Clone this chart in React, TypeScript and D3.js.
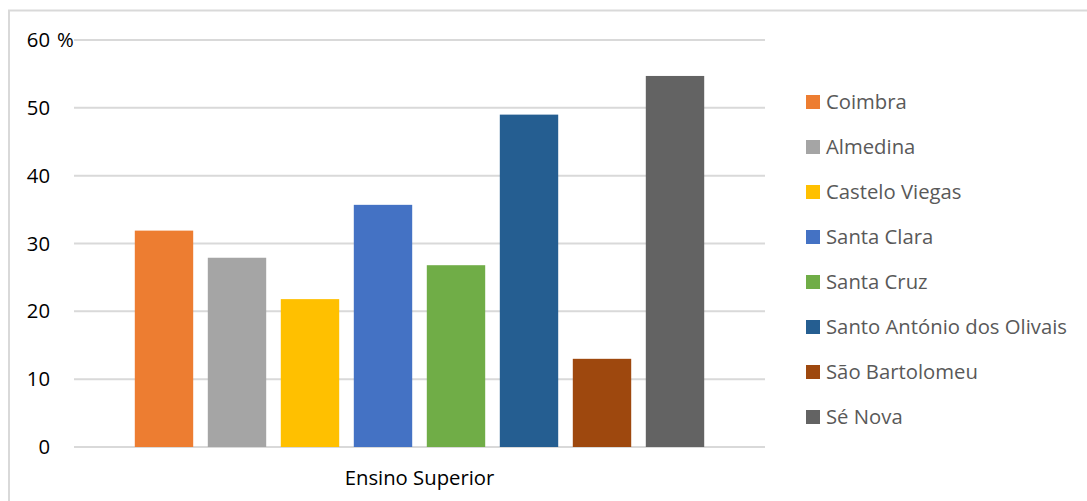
import React from "react";
import * as d3 from "d3";

const categories = ["Ensino Superior"];
const series = [
  "Coimbra",
  "Almedina",
  "Castelo Viegas",
  "Santa Clara",
  "Santa Cruz",
  "Santo António dos Olivais",
  "São Bartolomeu",
  "Sé Nova",
];
const values = [31.9, 27.9, 21.8, 35.7, 26.8, 49, 13, 54.7];
const colors = ["#ED7D31", "#A5A5A5", "#FFC000", "#4472C4", "#70AD47", "#255E91", "#9E480E", "#636363"];
const yTicks = [0, 10, 20, 30, 40, 50, 60];

export default function App() {
  const W = 1087, H = 501;
  const left = 74, right = 765, top = 40, bottom = 447;
  const y = d3.scaleLinear().domain([0, 60]).range([bottom, top]);
  const x0 = d3.scaleBand().domain(categories).range([left, right]).paddingInner(0).paddingOuter(0.0916);
  const x1 = d3.scaleBand().domain(series).range([0, x0.bandwidth()]).paddingInner(0.2).paddingOuter(0.1);
  const font = "'Open Sans', 'Liberation Sans', sans-serif";
  const fs = 20.3;
  return (
    <svg width={W} height={H} style={{ position: "absolute", left: 0, top: 0, background: "#fff" }} fontFamily={font}>
      <rect x={9} y={10.5} width={W + 10} height={H + 10} fill="#fff" stroke="#D9D9D9" strokeWidth={2} />
      {yTicks.map((t) => (
        <line key={t} x1={left} x2={right} y1={y(t)} y2={y(t)} stroke="#D9D9D9" strokeWidth={2} />
      ))}
      {yTicks.map((t) => (
        <text key={"l" + t} x={50} y={y(t)} dy="0.35em" textAnchor="end" fontSize={fs} fill="#000">
          {t}
        </text>
      ))}
      <text x={57} y={y(60)} dy="0.35em" fontSize={fs} fill="#000">%</text>
      {categories.map((c) => (
        <g key={c} transform={`translate(${x0(c)},0)`}>
          {series.map((s, i) => (
            <rect key={s} x={x1(s)} y={y(values[i])} width={x1.bandwidth()} height={y(0) - y(values[i])} fill={colors[i]} />
          ))}
        </g>
      ))}
      {categories.map((c) => (
        <text key={"c" + c} x={x0(c)! + x0.bandwidth() / 2} y={478} dy="0.35em" textAnchor="middle" fontSize={fs} fill="#000">
          {c}
        </text>
      ))}
      {series.map((s, i) => (
        <g key={"lg" + s} transform={`translate(806,${102 + i * 45})`}>
          <rect x={0} y={-7} width={14} height={14} fill={colors[i]} />
          <text x={20} y={0} dy="0.35em" fontSize={fs} fill="#595959">{s}</text>
        </g>
      ))}
    </svg>
  );
}
